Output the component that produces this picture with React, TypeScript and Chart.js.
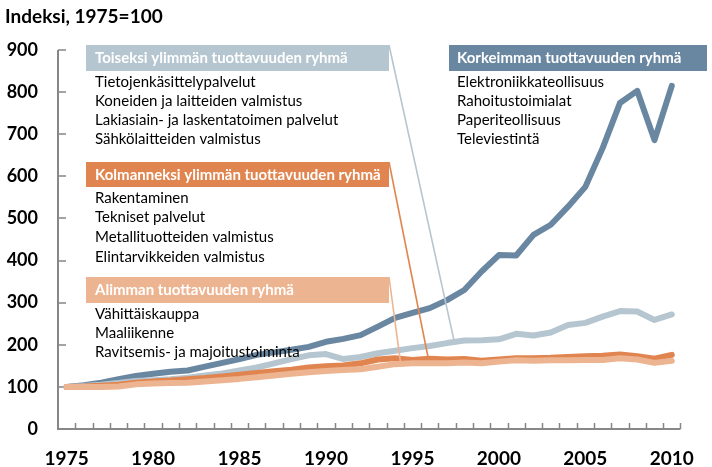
import React, { useEffect, useRef } from 'react';
import { Chart, registerables } from 'chart.js';

Chart.register(...registerables);

const FONT = 'Lato';

const years = ['1975','1976','1977','1978','1979','1980','1981','1982','1983','1984','1985','1986','1987','1988','1989','1990','1991','1992','1993','1994','1995','1996','1997','1998','1999','2000','2001','2002','2003','2004','2005','2006','2007','2008','2009','2010'];

const highest = [100,104,110,118,126,131,136,139,148,157,166,176,182,188,195,207,214,223,243,264,276,287,306,330,374,413,412,461,485,528,575,667,774,803,686,815];
const second = [100,102,105,109,114,116,118,122,127,132,139,146,156,166,175,178,166,171,180,186,192,197,204,210,211,213,226,222,229,247,252,267,280,279,259,272];
const third = [100,101,103,105,110,113,115,118,121,125,129,133,137,141,146,149,151,156,165,168,164,167,165,166,162,165,168,168,169,171,173,174,177,173,167,176];
const lowest = [100,100,100,101,106,108,109,110,113,116,119,123,127,131,135,138,140,142,148,154,156,156,156,158,156,160,163,162,163,163,164,164,168,165,157,162];

const yTicks = [0,100,200,300,400,500,600,700,800,900];
const chartTitle = 'Indeksi, 1975=100';

const highestTitle = 'Korkeimman tuottavuuden ryhmä';
const highestItems = ['Elektroniikkateollisuus','Rahoitustoimialat','Paperiteollisuus','Televiestintä'];
const secondTitle = 'Toiseksi ylimmän tuottavuuden ryhmä';
const secondItems = ['Tietojenkäsittelypalvelut','Koneiden ja laitteiden valmistus','Lakiasiain- ja laskentatoimen palvelut','Sähkölaitteiden valmistus'];
const thirdTitle = 'Kolmanneksi ylimmän tuottavuuden ryhmä';
const thirdItems = ['Rakentaminen','Tekniset palvelut','Metallituotteiden valmistus','Elintarvikkeiden valmistus'];
const lowestTitle = 'Alimman tuottavuuden ryhmä';
const lowestItems = ['Vähittäiskauppa','Maaliikenne','Ravitsemis- ja majoitustoiminta'];

// connector targets in data space: [category index (fractional), value]
const secondTarget = [22.4, 211];
const thirdTarget = [20.9, 171];
const lowestTarget = [19.3, 161];

const C_DARK = '#6a87a2';
const C_LBLUE = '#b6c6d0';
const C_ORANGE = '#e0854f';
const C_LORANGE = '#edb491';
const AXIS = '#878787';

const boxes = [
  { title: secondTitle, items: secondItems, color: C_LBLUE, x: 86, y: 45, w: 303, h: 26, tx: 95, iy: 82, step: 19, target: secondTarget },
  { title: thirdTitle, items: thirdItems, color: C_ORANGE, x: 86, y: 162, w: 303, h: 25, tx: 95, iy: 198, step: 19.6, target: thirdTarget },
  { title: lowestTitle, items: lowestItems, color: C_LORANGE, x: 86, y: 277, w: 303, h: 26, tx: 95, iy: 314, step: 19, target: lowestTarget },
  { title: highestTitle, items: highestItems, color: C_DARK, x: 449, y: 45, w: 258, h: 26, tx: 457, iy: 82, step: 19, target: null as any },
];

const axesPlugin = {
  id: 'customAxes',
  beforeDatasetsDraw(chart: any) {
    const { ctx, chartArea } = chart;
    const ys = chart.scales.y;
    const xs = chart.scales.x;
    ctx.save();
    ctx.strokeStyle = AXIS;
    ctx.lineWidth = 2;
    ctx.beginPath();
    ctx.moveTo(chartArea.left, ys.getPixelForValue(900));
    ctx.lineTo(chartArea.left, chartArea.bottom);
    ctx.lineTo(chartArea.right, chartArea.bottom);
    ctx.stroke();
    ctx.lineWidth = 1.5;
    ctx.beginPath();
    for (const v of yTicks) {
      if (v === 0) continue;
      const py = Math.round(ys.getPixelForValue(v));
      ctx.moveTo(chartArea.left, py);
      ctx.lineTo(chartArea.left + 8, py);
    }
    for (let i = 1; i <= years.length; i++) {
      const px = Math.round(xs.getPixelForValue(i - 0.5)) + 0.5;
      ctx.moveTo(px, chartArea.bottom);
      ctx.lineTo(px, chartArea.bottom - 6);
    }
    ctx.stroke();
    ctx.restore();
  },
};

const annotPlugin = {
  id: 'annots',
  afterDraw(chart: any) {
    const { ctx } = chart;
    const xs = chart.scales.x;
    const ys = chart.scales.y;
    ctx.save();
    ctx.textBaseline = 'middle';
    ctx.textAlign = 'left';
    ctx.fillStyle = '#000';
    ctx.font = `bold 19px ${FONT}`;
    ctx.fillText(chartTitle, 5, 17);
    for (const b of boxes) {
      if (b.target) {
        ctx.strokeStyle = b.color;
        ctx.lineWidth = 1.6;
        ctx.beginPath();
        ctx.moveTo(b.x + b.w, b.y);
        ctx.lineTo(xs.getPixelForValue(b.target[0]), ys.getPixelForValue(b.target[1]));
        ctx.stroke();
      }
      ctx.fillStyle = b.color;
      ctx.fillRect(b.x, b.y, b.w, b.h);
      ctx.fillStyle = '#fff';
      ctx.font = `bold 15px ${FONT}`;
      ctx.fillText(b.title, b.tx, b.y + b.h / 2 + 0.5);
      ctx.fillStyle = '#000';
      ctx.font = `15px ${FONT}`;
      b.items.forEach((t: string, i: number) => {
        ctx.fillText(t, b.tx, b.iy + i * b.step);
      });
    }
    ctx.restore();
  },
};

export default function App() {
  const ref = useRef<HTMLCanvasElement | null>(null);
  useEffect(() => {
    if (!ref.current) return;
    Chart.defaults.font.family = FONT;
    const ds = (data: number[], color: string) => ({
      data,
      borderColor: color,
      backgroundColor: color,
      borderWidth: 6,
      pointRadius: 0,
      pointHoverRadius: 0,
      tension: 0,
      fill: false,
      borderJoinStyle: 'round' as const,
      borderCapStyle: 'round' as const,
    });
    const chart = new Chart(ref.current, {
      type: 'line',
      data: {
        labels: years,
        datasets: [
          ds(lowest, C_LORANGE),
          ds(third, C_ORANGE),
          ds(second, C_LBLUE),
          ds(highest, C_DARK),
        ],
      },
      options: {
        responsive: false,
        animation: false,
        layout: { padding: { top: 50, right: 13, bottom: 0, left: 0 } },
        plugins: { legend: { display: false }, tooltip: { enabled: false }, title: { display: false } },
        scales: {
          x: {
            type: 'category',
            offset: true,
            grid: { display: false, drawTicks: false },
            border: { display: false },
            afterFit: (s: any) => { s.height = 38; },
            ticks: {
              autoSkip: false,
              maxRotation: 0,
              padding: 18,
              color: '#000',
              font: { family: FONT, size: 19, weight: 'bold' },
              callback: (_v: any, i: number) => (Number(years[i]) % 5 === 0 ? years[i] : ''),
            },
          },
          y: {
            min: 0,
            max: 900,
            grid: { display: false, drawTicks: false },
            border: { display: false },
            afterFit: (s: any) => { s.width = 58; },
            ticks: {
              stepSize: 100,
              padding: 20,
              color: '#000',
              font: { family: FONT, size: 18, weight: 'bold' },
            },
          },
        },
      },
      plugins: [axesPlugin, annotPlugin],
    });
    return () => chart.destroy();
  }, []);
  return (
    <div style={{ position: 'absolute', left: 0, top: 0, width: 712, height: 467 }}>
      <canvas ref={ref} width={712} height={467} style={{ display: 'block' }} />
    </div>
  );
}
